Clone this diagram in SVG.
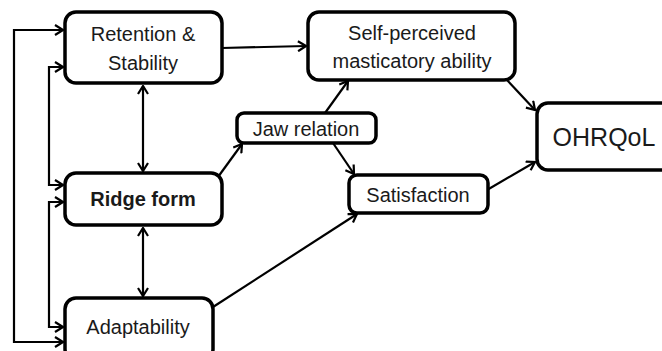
<svg xmlns="http://www.w3.org/2000/svg" width="662" height="351" viewBox="0 0 662 351">
<style>
.box{fill:#fff;stroke:#000;stroke-width:3.5}
.t{font-family:"Liberation Sans",Arial,sans-serif;font-size:20px;fill:#1a1a1a;text-anchor:middle}
.b{font-weight:bold}
.c{fill:none;stroke:#000;stroke-width:2.2}
</style>
<defs>
<marker id="ah" viewBox="0 0 10 12" refX="9" refY="6" markerWidth="10" markerHeight="12" orient="auto-start-reverse" markerUnits="userSpaceOnUse">
<path d="M1,1 L9,6 L1,11" fill="none" stroke="#000" stroke-width="2.2"/>
</marker>
</defs>
<rect width="662" height="351" fill="#fff"/>
<g id="connectors">
<path class="c" d="M63,30 H14 V342 H63" marker-start="url(#ah)" marker-end="url(#ah)"/>
<path class="c" d="M63,67 H49 V185 H63" marker-start="url(#ah)" marker-end="url(#ah)"/>
<path class="c" d="M63,202 H49 V327 H63" marker-start="url(#ah)" marker-end="url(#ah)"/>
<path class="c" d="M143,86 V171" marker-start="url(#ah)" marker-end="url(#ah)"/>
<path class="c" d="M143,228 V296" marker-start="url(#ah)" marker-end="url(#ah)"/>
<path class="c" d="M222,48 L306,46" marker-end="url(#ah)"/>
<path class="c" d="M218,177 L242,144" marker-end="url(#ah)"/>
<path class="c" d="M325,113 L348,81" marker-end="url(#ah)"/>
<path class="c" d="M333,143 L354,174" marker-end="url(#ah)"/>
<path class="c" d="M213,307 L357,214" marker-end="url(#ah)"/>
<path class="c" d="M507,80 L535,110" marker-end="url(#ah)"/>
<path class="c" d="M487,190 L535,162" marker-end="url(#ah)"/>
</g>
<g id="retention">
<rect class="box" x="65" y="12" width="157" height="71" rx="11"/>
<text class="t" x="143" y="41">Retention &amp;</text>
<text class="t" x="143" y="70">Stability</text>
</g>
<g id="ridge">
<rect class="box" x="65" y="173" width="157" height="52" rx="11"/>
<text class="t b" x="143" y="206">Ridge form</text>
</g>
<g id="adaptability">
<rect class="box" x="65" y="298" width="148" height="62" rx="11"/>
<text class="t" x="138" y="334">Adaptability</text>
</g>
<g id="self">
<rect class="box" x="308" y="12" width="207" height="68" rx="11"/>
<text class="t" x="412" y="40">Self-perceived</text>
<text class="t" x="412" y="68">masticatory ability</text>
</g>
<g id="jaw">
<rect class="box" x="237" y="113" width="139" height="30" rx="7"/>
<text class="t" x="306" y="136">Jaw relation</text>
</g>
<g id="satisfaction">
<rect class="box" x="349" y="175" width="139" height="38" rx="8"/>
<text class="t" x="418" y="202">Satisfaction</text>
</g>
<g id="ohrqol">
<rect class="box" x="537" y="103" width="135" height="67" rx="11"/>
<text class="t" x="604" y="146" style="font-size:25px">OHRQoL</text>
</g>
</svg>
